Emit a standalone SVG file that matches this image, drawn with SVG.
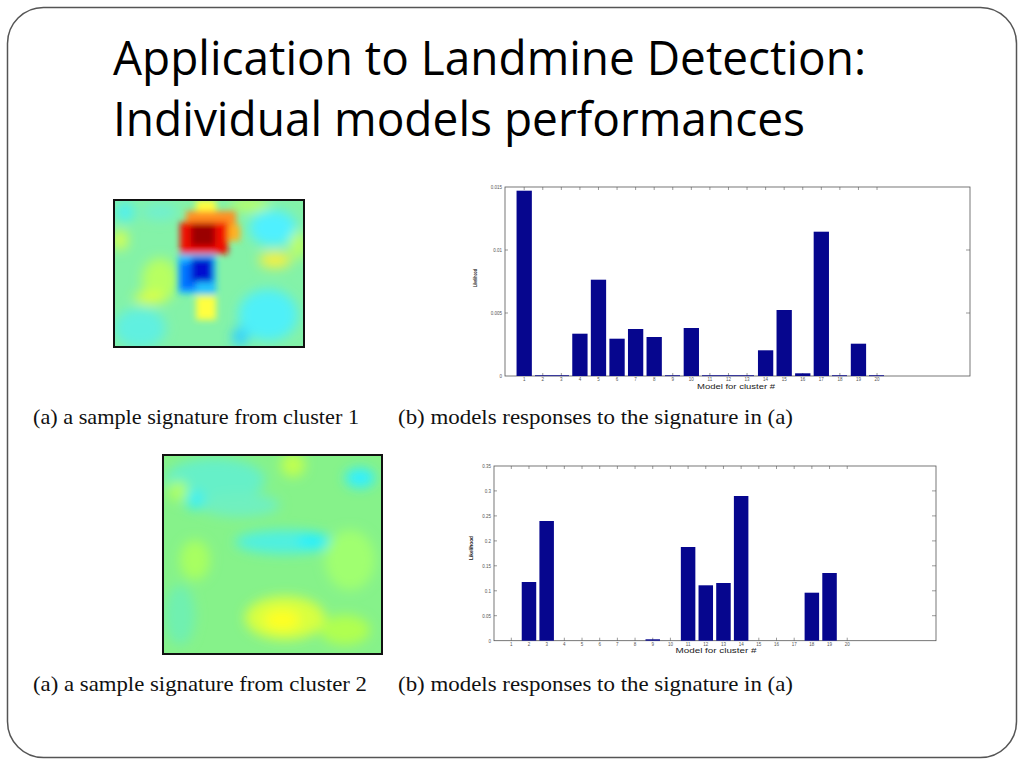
<svg xmlns="http://www.w3.org/2000/svg" width="1024" height="768" viewBox="0 0 1024 768">
<style>
.title{font-family:"Open Sans","Liberation Sans",sans-serif;font-size:47px;fill:#000}
.cap{font-family:"Liberation Serif","DejaVu Serif",serif;font-size:21px;fill:#111}
.tick{font-family:"Liberation Sans",Arial,sans-serif;font-size:4.5px;fill:#555}
.axl{font-family:"Liberation Sans",Arial,sans-serif;font-size:8px;fill:#222}
.ylab{font-family:"Liberation Sans",Arial,sans-serif;font-size:6px;fill:#222;font-weight:bold}
.bar{fill:#06068e}
.frame{fill:none;stroke:#555;stroke-width:0.8}
.tk{stroke:#555;stroke-width:0.6}
.hm{fill:none;stroke:#111;stroke-width:2}
</style>
<defs>
<filter id="soft" x="-20%" y="-20%" width="140%" height="140%"><feGaussianBlur stdDeviation="6"/></filter>
<filter id="crisp" x="-20%" y="-20%" width="140%" height="140%"><feGaussianBlur stdDeviation="3"/></filter>
<clipPath id="c1"><rect x="114" y="200" width="190" height="147"/></clipPath>
<clipPath id="c2"><rect x="163" y="455" width="219" height="199"/></clipPath>
</defs>
<rect x="0" y="0" width="1024" height="768" fill="#fff"/>
<rect id="border" x="7.5" y="7.5" width="1009" height="750" rx="36" ry="36" fill="none" stroke="#555" stroke-width="1.5"/>

<g id="title">
<text class="title" x="113" y="75" textLength="753" lengthAdjust="spacingAndGlyphs">Application to Landmine Detection:</text>
<text class="title" x="113" y="136" textLength="692" lengthAdjust="spacingAndGlyphs">Individual models performances</text>
</g>

<g id="heatmap1">
<g clip-path="url(#c1)">
<rect x="114" y="200" width="190" height="147" fill="#84f2a8"/>
<g filter="url(#soft)">
<ellipse cx="273" cy="228" rx="24" ry="18" fill="#50f0ff"/>
<ellipse cx="268" cy="315" rx="30" ry="26" fill="#50f0f8"/>
<ellipse cx="140" cy="328" rx="26" ry="20" fill="#60f0e0"/>
<ellipse cx="125" cy="212" rx="10" ry="10" fill="#50f0f0"/>
<ellipse cx="160" cy="212" rx="18" ry="8" fill="#70f0d0"/>
<ellipse cx="240" cy="337" rx="8" ry="10" fill="#30d0ff"/>
<ellipse cx="120" cy="240" rx="8" ry="10" fill="#d8ff50"/>
<ellipse cx="275" cy="260" rx="16" ry="8" fill="#f8f040"/>
<ellipse cx="160" cy="280" rx="18" ry="22" fill="#b8ff60"/>
<ellipse cx="150" cy="298" rx="16" ry="6" fill="#e0ff40"/>
<ellipse cx="250" cy="205" rx="20" ry="6" fill="#c0ff60"/>
<ellipse cx="298" cy="245" rx="8" ry="14" fill="#c0ff60"/>
</g>
<g filter="url(#crisp)">
<rect x="196" y="200" width="20" height="12" fill="#ffff40"/>
<rect x="196" y="296" width="20" height="24" fill="#ffff40"/>
<rect x="186" y="211" width="50" height="22" fill="#ff9020"/>
<rect x="226" y="225" width="14" height="16" fill="#ffb020"/>
<rect x="180" y="222" width="48" height="32" fill="#f01000"/>
<rect x="191" y="224" width="24" height="22" fill="#9a0000"/>
<rect x="178" y="254" width="38" height="40" fill="#20c0ff"/>
<rect x="180" y="262" width="16" height="28" fill="#0070ff"/>
<rect x="191" y="258" width="22" height="24" fill="#0010d0"/>
</g>
</g>
<rect class="hm" x="114" y="200" width="190" height="147"/>
</g>

<g id="heatmap2">
<g clip-path="url(#c2)">
<rect x="163" y="455" width="219" height="199" fill="#86f28a"/>
<g filter="url(#soft)">
<ellipse cx="215" cy="480" rx="50" ry="22" fill="#66f0c8"/>
<ellipse cx="240" cy="505" rx="40" ry="12" fill="#70f0c0"/>
<ellipse cx="360" cy="478" rx="15" ry="10" fill="#30f0ff"/>
<ellipse cx="285" cy="542" rx="50" ry="12" fill="#50f0e0"/>
<ellipse cx="312" cy="541" rx="15" ry="7" fill="#20f0ff"/>
<ellipse cx="195" cy="500" rx="10" ry="10" fill="#40f0f0"/>
<ellipse cx="293" cy="465" rx="12" ry="12" fill="#c0ff50"/>
<ellipse cx="178" cy="491" rx="10" ry="10" fill="#b0ff60"/>
<ellipse cx="285" cy="618" rx="40" ry="22" fill="#d8ff40"/>
<ellipse cx="282" cy="620" rx="18" ry="10" fill="#ffff20"/>
<ellipse cx="345" cy="630" rx="25" ry="15" fill="#b0ff50"/>
<ellipse cx="195" cy="560" rx="15" ry="20" fill="#a8ff60"/>
<ellipse cx="180" cy="615" rx="15" ry="30" fill="#70f0b0"/>
<ellipse cx="350" cy="560" rx="25" ry="30" fill="#a0ff70"/>
</g>
</g>
<rect class="hm" x="163" y="455" width="219" height="199"/>
</g>

<g id="chart1">
<rect class="frame" x="505" y="187" width="465" height="189"/>
<g class="tk">
<path d="M524.2 187v3M542.77 187v3M561.34 187v3M579.91 187v3M598.48 187v3M617.05 187v3M635.62 187v3M654.19 187v3M672.76 187v3M691.33 187v3M709.9 187v3M728.47 187v3M747.04 187v3M765.61 187v3M784.18 187v3M802.75 187v3M821.32 187v3M839.89 187v3M858.46 187v3M877.03 187v3"/>
<path d="M524.2 376v-3M542.77 376v-3M561.34 376v-3M579.91 376v-3M598.48 376v-3M617.05 376v-3M635.62 376v-3M654.19 376v-3M672.76 376v-3M691.33 376v-3M709.9 376v-3M728.47 376v-3M747.04 376v-3M765.61 376v-3M784.18 376v-3M802.75 376v-3M821.32 376v-3M839.89 376v-3M858.46 376v-3M877.03 376v-3"/>
<path d="M505 250h3M505 313h3M970 250h-4M970 313h-4"/>
</g>
<rect class="bar" x="516.55" y="190.7" width="15.3" height="185.3"/>
<rect class="bar" x="572.26" y="333.7" width="15.3" height="42.3"/>
<rect class="bar" x="590.83" y="279.7" width="15.3" height="96.3"/>
<rect class="bar" x="609.4" y="338.7" width="15.3" height="37.3"/>
<rect class="bar" x="627.97" y="329" width="15.3" height="47"/>
<rect class="bar" x="646.54" y="337" width="15.3" height="39"/>
<rect class="bar" x="683.68" y="328" width="15.3" height="48"/>
<rect class="bar" x="757.96" y="350.3" width="15.3" height="25.7"/>
<rect class="bar" x="776.53" y="310" width="15.3" height="66"/>
<rect class="bar" x="795.1" y="373.3" width="15.3" height="2.7"/>
<rect class="bar" x="813.67" y="231.7" width="15.3" height="144.3"/>
<rect class="bar" x="850.81" y="343.7" width="15.3" height="32.3"/>
<path d="M535 375.6h34M665 375.6h15M702 375.6h52M832 375.6h15M869 375.6h15" stroke="#06068e" stroke-width="0.8"/>
<g class="tick" text-anchor="end">
<text x="502" y="189">0.015</text>
<text x="502" y="252">0.01</text>
<text x="502" y="315">0.005</text>
<text x="502" y="378">0</text>
</g>
<g class="tick" text-anchor="middle">
<text x="524.2" y="381">1</text><text x="542.77" y="381">2</text><text x="561.34" y="381">3</text><text x="579.91" y="381">4</text><text x="598.48" y="381">5</text><text x="617.05" y="381">6</text><text x="635.62" y="381">7</text><text x="654.19" y="381">8</text><text x="672.76" y="381">9</text><text x="691.33" y="381">10</text><text x="709.9" y="381">11</text><text x="728.47" y="381">12</text><text x="747.04" y="381">13</text><text x="765.61" y="381">14</text><text x="784.18" y="381">15</text><text x="802.75" y="381">16</text><text x="821.32" y="381">17</text><text x="839.89" y="381">18</text><text x="858.46" y="381">19</text><text x="877.03" y="381">20</text>
</g>
<text class="axl" x="736" y="388.5" text-anchor="middle" textLength="78" lengthAdjust="spacingAndGlyphs">Model for cluster #</text>
<text class="ylab" transform="translate(477 278) rotate(-90)" text-anchor="middle" textLength="18" lengthAdjust="spacingAndGlyphs">Likelihood</text>
</g>

<g id="chart2">
<rect class="frame" x="494" y="466" width="442" height="174.7"/>
<g class="tk">
<path d="M511.3 466v3M528.98 466v3M546.66 466v3M564.34 466v3M582.02 466v3M599.7 466v3M617.38 466v3M635.06 466v3M652.74 466v3M670.42 466v3M688.1 466v3M705.78 466v3M723.46 466v3M741.14 466v3M758.82 466v3M776.5 466v3M794.18 466v3M811.86 466v3M829.54 466v3M847.22 466v3"/>
<path d="M511.3 640.7v-3M528.98 640.7v-3M546.66 640.7v-3M564.34 640.7v-3M582.02 640.7v-3M599.7 640.7v-3M617.38 640.7v-3M635.06 640.7v-3M652.74 640.7v-3M670.42 640.7v-3M688.1 640.7v-3M705.78 640.7v-3M723.46 640.7v-3M741.14 640.7v-3M758.82 640.7v-3M776.5 640.7v-3M794.18 640.7v-3M811.86 640.7v-3M829.54 640.7v-3M847.22 640.7v-3"/>
<path d="M494 615.7h3M494 590.8h3M494 565.8h3M494 540.9h3M494 515.9h3M494 490.9h3M936 615.7h-4M936 590.8h-4M936 565.8h-4M936 540.9h-4M936 515.9h-4M936 490.9h-4"/>
</g>
<rect class="bar" x="521.73" y="582" width="14.5" height="58.7"/>
<rect class="bar" x="539.41" y="521" width="14.5" height="119.7"/>
<rect class="bar" x="645.49" y="639.3" width="14.5" height="1.4"/>
<rect class="bar" x="680.85" y="547" width="14.5" height="93.7"/>
<rect class="bar" x="698.53" y="585.3" width="14.5" height="55.4"/>
<rect class="bar" x="716.21" y="583" width="14.5" height="57.7"/>
<rect class="bar" x="733.89" y="496" width="14.5" height="144.7"/>
<rect class="bar" x="804.61" y="592.7" width="14.5" height="48"/>
<rect class="bar" x="822.29" y="573" width="14.5" height="67.7"/>
<g class="tick" text-anchor="end">
<text x="491" y="468">0.35</text>
<text x="491" y="493">0.3</text>
<text x="491" y="518">0.25</text>
<text x="491" y="543">0.2</text>
<text x="491" y="568">0.15</text>
<text x="491" y="593">0.1</text>
<text x="491" y="618">0.05</text>
<text x="491" y="643">0</text>
</g>
<g class="tick" text-anchor="middle">
<text x="511.3" y="645.5">1</text><text x="528.98" y="645.5">2</text><text x="546.66" y="645.5">3</text><text x="564.34" y="645.5">4</text><text x="582.02" y="645.5">5</text><text x="599.7" y="645.5">6</text><text x="617.38" y="645.5">7</text><text x="635.06" y="645.5">8</text><text x="652.74" y="645.5">9</text><text x="670.42" y="645.5">10</text><text x="688.1" y="645.5">11</text><text x="705.78" y="645.5">12</text><text x="723.46" y="645.5">13</text><text x="741.14" y="645.5">14</text><text x="758.82" y="645.5">15</text><text x="776.5" y="645.5">16</text><text x="794.18" y="645.5">17</text><text x="811.86" y="645.5">18</text><text x="829.54" y="645.5">19</text><text x="847.22" y="645.5">20</text>
</g>
<text class="axl" x="716" y="653" text-anchor="middle" textLength="81" lengthAdjust="spacingAndGlyphs">Model for cluster #</text>
<text class="ylab" transform="translate(473 548) rotate(-90)" text-anchor="middle" textLength="24" lengthAdjust="spacingAndGlyphs">Likelihood</text>
</g>

<g id="captions">
<text class="cap" x="33" y="424" textLength="326" lengthAdjust="spacingAndGlyphs">(a) a sample signature from cluster 1</text>
<text class="cap" x="398" y="424" textLength="395" lengthAdjust="spacingAndGlyphs">(b) models responses to the signature in (a)</text>
<text class="cap" x="33" y="691" textLength="334" lengthAdjust="spacingAndGlyphs">(a) a sample signature from cluster 2</text>
<text class="cap" x="398" y="691" textLength="395" lengthAdjust="spacingAndGlyphs">(b) models responses to the signature in (a)</text>
</g>
</svg>
